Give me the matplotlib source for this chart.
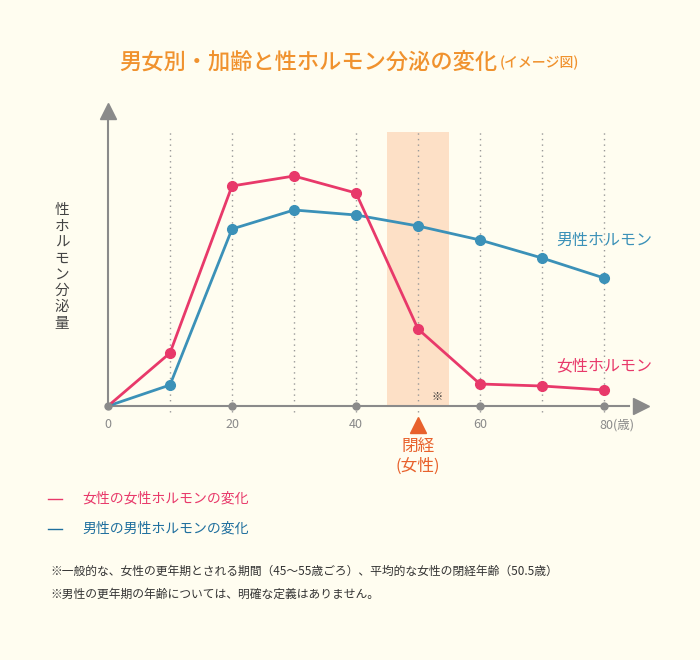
import matplotlib.pyplot as plt
from matplotlib.lines import Line2D

plt.rcParams['font.family'] = ['Noto Sans CJK JP', 'DejaVu Sans']

# data (hormone level, arbitrary units)
ages = [0, 10, 20, 30, 40, 50, 60, 70, 80]
female = [0, 53, 220, 230, 213, 77, 22, 20, 16]
male = [0, 21, 177, 196, 191, 180, 166, 148, 128]
tick_ages = [0, 20, 40, 60, 80]
tick_labels = ['0', '20', '40', '60', '80(歳)']
grid_ages = [10, 20, 30, 40, 50, 60, 70, 80]
band = (45, 55)
menopause = 50

BG = '#fffdf0'
PINK = '#e8396a'
BLUE = '#3b91b8'
GRAY = '#8a8a8a'
ORANGE = '#f0922e'
RED = '#e8612c'
W, H = 700, 660

def fx(px):
    return px / W

def fy(py):
    return 1 - py / H

fig = plt.figure(figsize=(7, 6.6), dpi=100, facecolor=BG)
# axes: age 0 at x=108px, 6.2 px per year; level 0 at y=406px, 1 unit per px
ax = fig.add_axes([fx(108), fy(406), 540 / W, 303 / H])
ax.set_facecolor(BG)
ax.set_xlim(0, 540 / 6.2)
ax.set_ylim(0, 303)
for s in ax.spines.values():
    s.set_visible(False)
ax.set_xticks([])
ax.set_yticks([])

# shaded band
ax.axvspan(band[0], band[1], ymin=0, ymax=274 / 303, color='#fde0c6', lw=0, zorder=0)
# dotted verticals
for a in grid_ages:
    ax.plot([a, a], [-6, 276], color='#999999', lw=1, ls=(0, (1, 3)), zorder=1, clip_on=False)

# axes lines and arrows
ax.plot([0, 0], [0, 292], color=GRAY, lw=1.5, zorder=2, clip_on=False)
ax.plot([0, 84], [0, 0], color=GRAY, lw=1.5, zorder=2, clip_on=False)
ax.plot([0], [295], marker='^', ms=11, color=GRAY, clip_on=False, zorder=3)
ax.plot([86], [0], marker='>', ms=11, color=GRAY, clip_on=False, zorder=3)

# lines
ax.plot(ages, male, color=BLUE, lw=2, marker='o', ms=7, markevery=list(range(1, len(ages))),
        zorder=4, clip_on=False)
ax.plot(ages, female, color=PINK, lw=2, marker='o', ms=7, markevery=list(range(1, len(ages))),
        zorder=5, clip_on=False)
ax.plot(tick_ages, [0] * len(tick_ages), 'o', ms=5, color=GRAY, zorder=6, clip_on=False)

# tick labels
for a, lab in zip(tick_ages, tick_labels):
    if lab.endswith(')'):
        ax.text(a - 0.8, -19, lab, ha='left', va='center', fontsize=9, color=GRAY)
    else:
        ax.text(a, -19, lab, ha='center', va='center', fontsize=9, color=GRAY)

ax.text(53, 9, '※', fontsize=8, color='#333333', ha='center', va='center')

# menopause marker
ax.plot([menopause], [-19], marker='^', ms=11, color=RED, clip_on=False)
ax.text(menopause, -50, '閉経\n(女性)', ha='center', va='center', fontsize=12,
        color=RED, linespacing=1.2)

# series labels
fig.text(fx(556), fy(240), '男性ホルモン', fontsize=11.5, color=BLUE, va='center')
fig.text(fx(556), fy(366), '女性ホルモン', fontsize=11.5, color=PINK, va='center')

# y label stacked
fig.text(fx(62), fy(267), '\n'.join('性ホルモン分泌量'), fontsize=10.5, color='#444444',
         ha='center', va='center', linespacing=1.2)

# title
fig.text(fx(497), fy(62), '男女別・加齢と性ホルモン分泌の変化', fontsize=16, color=ORANGE,
         ha='right', va='center', fontweight='medium')
fig.text(fx(500), fy(63), '(イメージ図)', fontsize=10, color=ORANGE, ha='left', va='center',
         fontweight='medium')

# legend
fig.add_artist(Line2D([fx(48), fx(62)], [fy(499), fy(499)], color=PINK, lw=1))
fig.text(fx(82), fy(499), '女性の女性ホルモンの変化', fontsize=10, color=PINK, va='center')
fig.add_artist(Line2D([fx(48), fx(62)], [fy(529), fy(529)], color='#1f6f9e', lw=1))
fig.text(fx(82), fy(529), '男性の男性ホルモンの変化', fontsize=10, color='#1f6f9e', va='center')

# notes
fig.text(fx(50), fy(571), '※一般的な、女性の更年期とされる期間（45〜55歳ごろ）、平均的な女性の閉経年齢（50.5歳）',
         fontsize=8.5, color='#333333', va='center')
fig.text(fx(50), fy(594), '※男性の更年期の年齢については、明確な定義はありません。',
         fontsize=8.5, color='#333333', va='center')

fig.savefig('out.png', dpi=100, facecolor=BG)
